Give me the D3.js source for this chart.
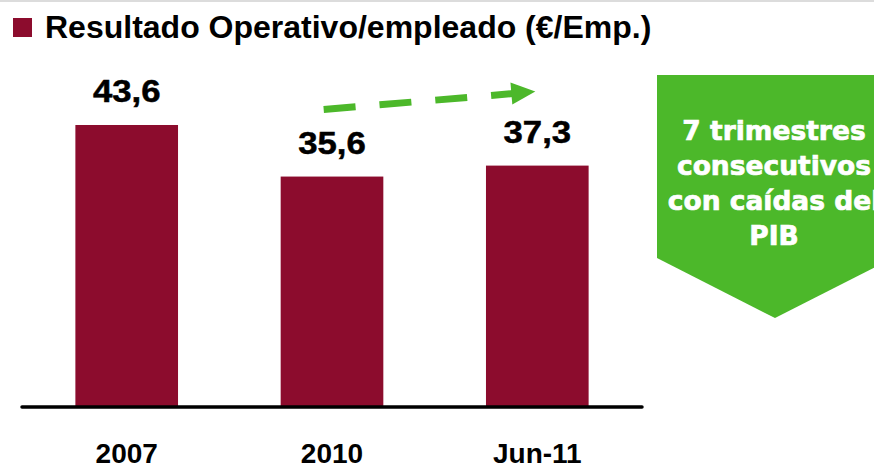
<!DOCTYPE html>
<html>
<head>
<meta charset="utf-8">
<script src="https://cdn.jsdelivr.net/npm/d3@7"></script>
<style>
  html, body { margin: 0; padding: 0; background: #fff; }
  svg { display: block; }
</style>
</head>
<body>
<div id="chart"></div>
<script>
// data
const categories = ['2007', '2010', 'Jun-11'];
const values = [43.6, 35.6, 37.3];
const title = 'Resultado Operativo/empleado (€/Emp.)';
const noteLines = ['7 trimestres', 'consecutivos', 'con caídas del', 'PIB'];
// dashed trend arrow, in data terms (category, value level)
const arrowFrom = ['2010', 46.0];
const arrowTo = ['Jun-11', 48.8];

const W = 874, H = 467;
const barColor = '#8c0c2d', green = '#4cb82a';

const svg = d3.select('#chart').append('svg')
  .attr('width', W).attr('height', H);

// faint rule along the top edge
svg.append('line')
  .attr('x1', 0).attr('x2', W).attr('y1', 1).attr('y2', 1)
  .attr('stroke', '#dcdcdc').attr('stroke-width', 2);

// title with square marker
svg.append('rect')
  .attr('x', 13).attr('y', 18).attr('width', 19).attr('height', 19)
  .attr('fill', barColor);
svg.append('text')
  .attr('x', 45).attr('y', 38)
  .attr('font-family', 'Liberation Sans, Arial, sans-serif')
  .attr('font-weight', 'bold')
  .attr('font-size', 32)
  .attr('fill', '#000')
  .text(title);

const x = d3.scaleBand()
  .domain(categories)
  .range([22, 642])
  .paddingInner(0.5)
  .paddingOuter(0.26);

const y = d3.scaleLinear()
  .domain([0, 50])
  .range([406, 406 - 50 * 6.445]);

const data = categories.map((c, i) => ({ cat: c, value: values[i] }));
const fmt = v => d3.format('.1f')(v).replace('.', ',');

svg.selectAll('rect.bar')
  .data(data)
  .enter().append('rect')
  .attr('class', 'bar')
  .attr('x', d => x(d.cat))
  .attr('y', d => y(d.value))
  .attr('width', x.bandwidth())
  .attr('height', d => y(0) - y(d.value))
  .attr('fill', barColor);

// value labels (glyphs in the original are a bit wide and heavy)
svg.selectAll('text.val')
  .data(data)
  .enter().append('text')
  .attr('class', 'val')
  .attr('transform', d => `translate(${x(d.cat) + x.bandwidth() / 2},${y(d.value) - 23}) scale(1.12,1)`)
  .attr('text-anchor', 'middle')
  .attr('font-family', 'Liberation Sans, Arial, sans-serif')
  .attr('font-weight', 'bold')
  .attr('font-size', 31)
  .attr('stroke', '#000').attr('stroke-width', 0.5)
  .text(d => fmt(d.value));

// baseline axis
const axis = svg.append('g')
  .attr('transform', `translate(0,${y(0) + 1})`)
  .call(d3.axisBottom(x).tickSize(0).tickPadding(0));
axis.select('.domain')
  .attr('d', `M${x.range()[0]},0H${x.range()[1]}`)
  .attr('stroke', '#000').attr('stroke-width', 3.5).attr('stroke-linecap', 'round');
axis.selectAll('.tick text')
  .attr('y', 56)
  .attr('dy', 0)
  .attr('font-family', 'Liberation Sans, Arial, sans-serif')
  .attr('font-weight', 'bold')
  .attr('font-size', 28)
  .attr('fill', '#000');

// dashed green arrow
const x0 = x(arrowFrom[0]) + 43, y0 = y(arrowFrom[1]);
const x1 = x(arrowTo[0]) + x.bandwidth() / 2 - 2, y1 = y(arrowTo[1]);
const ang = Math.atan2(y1 - y0, x1 - x0);
const headLen = 24, headHalf = 11;
const bx = x1 - headLen * Math.cos(ang), by = y1 - headLen * Math.sin(ang);
svg.append('line')
  .attr('x1', x0).attr('y1', y0).attr('x2', bx + 2).attr('y2', by)
  .attr('stroke', green).attr('stroke-width', 7)
  .attr('stroke-dasharray', '32,24');
svg.append('path')
  .attr('d', `M${x1},${y1}L${bx - headHalf * Math.sin(ang)},${by + headHalf * Math.cos(ang)}L${bx + headHalf * Math.sin(ang)},${by - headHalf * Math.cos(ang)}Z`)
  .attr('fill', green);

// green callout pentagon on the right
svg.append('path')
  .attr('d', 'M657,75H893V258L775,318L657,258Z')
  .attr('fill', green);
svg.selectAll('text.note')
  .data(noteLines)
  .enter().append('text')
  .attr('class', 'note')
  .attr('x', 774)
  .attr('y', (d, i) => 140 + i * 35)
  .attr('text-anchor', 'middle')
  .attr('font-family', 'DejaVu Sans, Verdana, sans-serif')
  .attr('font-weight', 'bold')
  .attr('font-size', 26.5)
  .attr('fill', '#fff')
  .attr('stroke', '#fff').attr('stroke-width', 0.7)
  .text(d => d);
</script>
</body>
</html>
